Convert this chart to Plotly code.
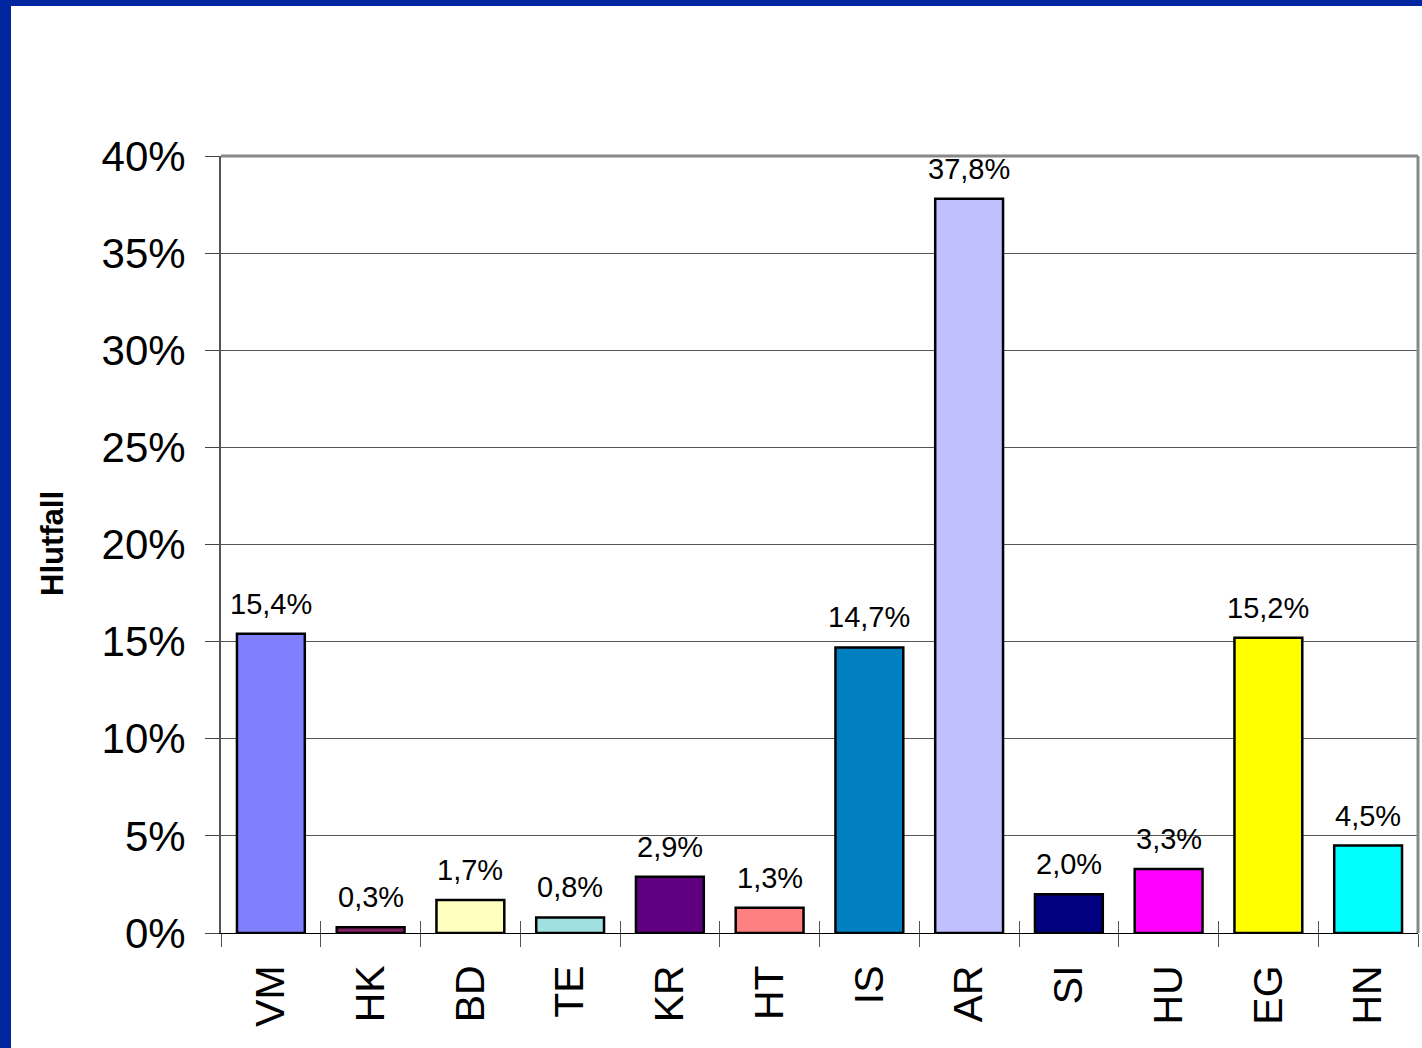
import plotly.graph_objects as go

categories = ["VM", "HK", "BD", "TE", "KR", "HT", "IS", "AR", "SI", "HU", "EG", "HN"]
values = [15.4, 0.3, 1.7, 0.8, 2.9, 1.3, 14.7, 37.8, 2.0, 3.3, 15.2, 4.5]
colors = ["#8080FF", "#802060", "#FFFFC0", "#A0E0E0", "#600080", "#FF8080",
          "#0080C0", "#C0C0FF", "#000080", "#FF00FF", "#FFFF00", "#00FFFF"]
y_ticks = [0, 5, 10, 15, 20, 25, 30, 35, 40]
y_title = "Hlutfall"

labels = [f"{v:.1f}".replace(".", ",") + "%" for v in values]
y_tick_text = [f"{t}%" for t in y_ticks]

W, H = 1422, 1048
ML, MR, MT, MB = 221, 4, 156, 115
PW, PH = W - ML - MR, H - MT - MB
FONT = "Liberation Sans, Arial, sans-serif"

fig = go.Figure()
fig.add_trace(go.Bar(
    x=categories, y=values,
    marker=dict(color=colors, line=dict(color="black", width=2.5)),
    cliponaxis=False, hoverinfo="x+y",
))
# invisible twin to carry the inner half of the category boundary ticks
fig.add_trace(go.Bar(
    x=categories, y=values, xaxis="x2",
    marker=dict(color="rgba(0,0,0,0)", line=dict(width=0)),
    hoverinfo="skip", showlegend=False,
))

annotations = [dict(
    x=c, y=v, xref="x", yref="y", text=t, showarrow=False,
    xanchor="center", yanchor="bottom", yshift=12,
    font=dict(family=FONT, size=29, color="black"),
) for c, v, t in zip(categories, values, labels)]
annotations.append(dict(
    text=y_title, xref="paper", yref="paper",
    x=(52 - ML) / PW, y=(933 - 544) / PH, textangle=-90,
    showarrow=False, xanchor="center", yanchor="middle",
    font=dict(family=FONT, size=31, color="black", weight="bold"),
))

fig.update_layout(
    width=W, height=H,
    margin=dict(l=ML, r=MR, t=MT, b=MB, autoexpand=False),
    paper_bgcolor="white", plot_bgcolor="white",
    showlegend=False, bargap=0.32,
    font=dict(family=FONT, color="black"),
    xaxis=dict(
        type="category", range=[-0.5, 11.5],
        tickson="boundaries", ticks="outside", ticklen=13, tickwidth=1,
        tickcolor="#555555", showline=True, linecolor="black", linewidth=1,
        tickangle=-90, tickfont=dict(family=FONT, size=41, color="black"),
        ticklabelstandoff=15, showgrid=False, automargin=False,
    ),
    xaxis2=dict(
        type="category", overlaying="x", range=[-0.5, 11.5], side="bottom",
        tickson="boundaries", ticks="inside", ticklen=12, tickwidth=1,
        tickcolor="#555555", showticklabels=False, showgrid=False,
        showline=False, automargin=False,
    ),
    yaxis=dict(
        range=[0, 40], tickvals=y_ticks, ticktext=y_tick_text,
        ticks="outside", ticklen=14, tickwidth=1, tickcolor="#444444",
        showline=True, linecolor="#555555", linewidth=2,
        showgrid=True, gridcolor="#555555", gridwidth=1,
        tickfont=dict(family=FONT, size=42, color="black"),
        ticklabelstandoff=11, zeroline=False, automargin=False,
    ),
    annotations=annotations,
    shapes=[
        # plot frame top/right
        dict(type="line", xref="paper", yref="paper", x0=0, x1=1, y0=1, y1=1,
             line=dict(color="#888888", width=3)),
        dict(type="line", xref="paper", yref="paper", x0=1, x1=1, y0=0, y1=1,
             line=dict(color="#888888", width=3)),
        # blue slide border
        dict(type="rect", xref="paper", yref="paper", layer="above",
             x0=-ML / PW, x1=(W - ML) / PW, y0=1 + (MT - 6) / PH, y1=1 + MT / PH,
             fillcolor="#00279F", line=dict(width=0)),
        dict(type="rect", xref="paper", yref="paper", layer="above",
             x0=-ML / PW, x1=(11 - ML) / PW, y0=-MB / PH, y1=1 + MT / PH,
             fillcolor="#00279F", line=dict(width=0)),
    ],
)

fig.write_html("out.html", config={"displayModeBar": False},
               post_script="document.body.style.margin='0';")
